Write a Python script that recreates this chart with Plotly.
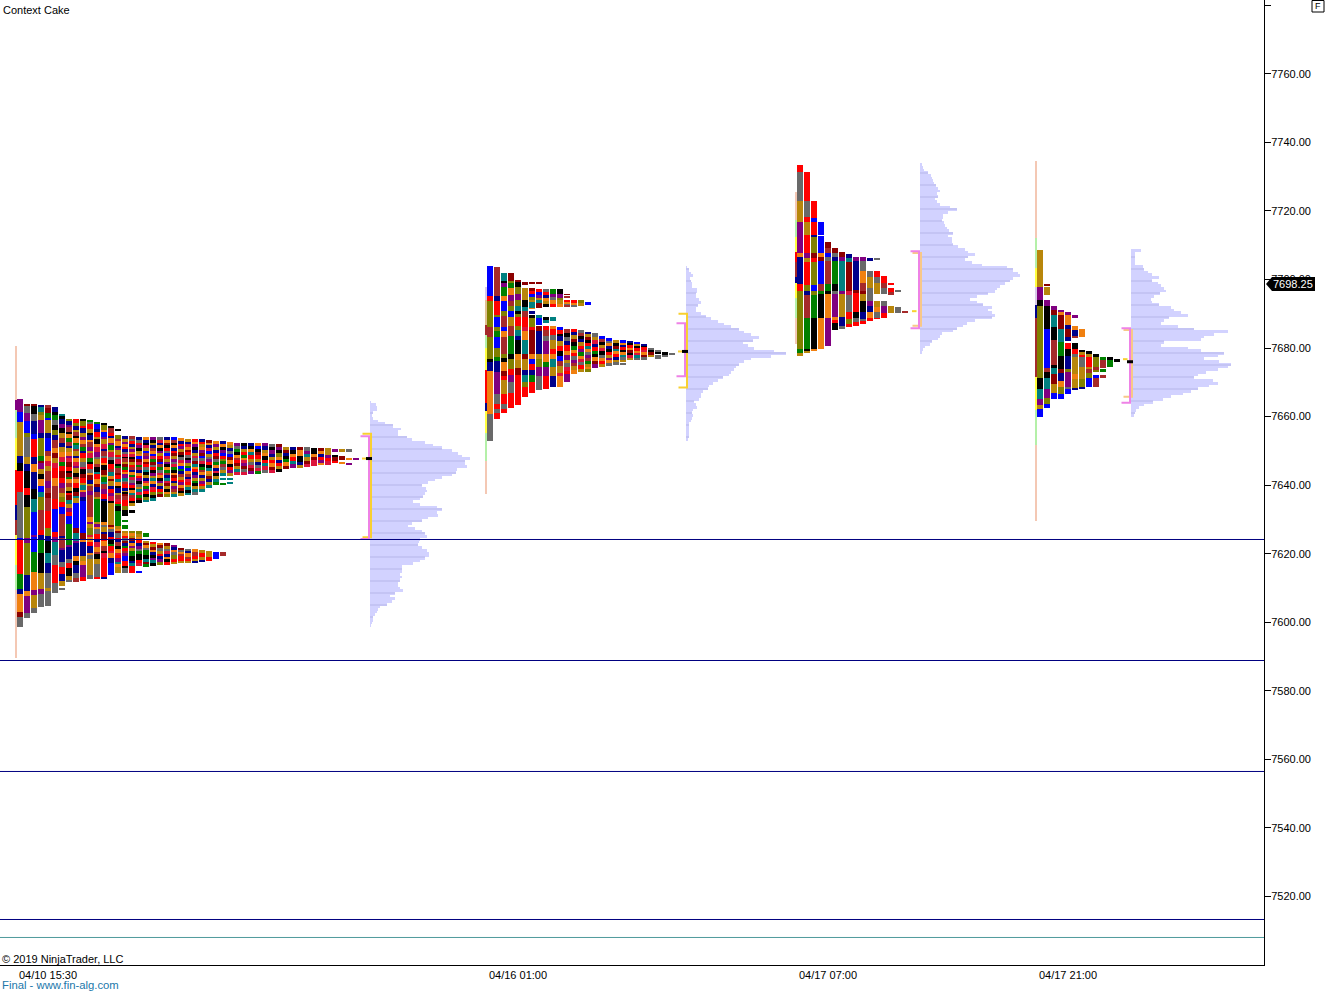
import re
import numpy as np
import plotly.graph_objects as go

PALETTE = dict(k="#000000", b="#0000ff", n="#00008b", r="#ff0000", m="#8b0000", w="#a52a2a", g="#008000",
               o="#f08010", y="#b8860b", l="#808000", p="#800080", t="#008080", a="#696969", c="#dc143c",
               s="#f4c8b4", e="#b4f0a8", i="#ffff40", d="#d8c8e8", f="#e0c090")

SESSION_START = [0, 47, 78, 102]
PROFILE_BASE = [35.3, 66.9, 90.3, 111.4]
TIME_LABELS = ["04/10 15:30", "04/16 01:00", "04/17 07:00", "04/17 21:00"]
PRICE_TICKS = [7520, 7540, 7560, 7580, 7600, 7620, 7640, 7660, 7680, 7700, 7720, 7740, 7760, 7780]
LEVEL_LINES = [7624.13, 7588.82, 7556.44, 7513.25]
TEAL_LINE = 7508.0
LAST_PRICE = 7698.25

RANGE_TOP = [7680.5, 7697.75, 7725.5, 7734.5]
RANGE_BOT = [7589.5, 7637.5, 7681.25, 7629.5]
RANGE_CELLS = ["54s10p28e32i35r15n15w30i25e68s", "13d25f10w13e22i33r8n21i28e33s",
               "28s17e15i10r15w6n14i20e26s", "77s30e19i18d13n59w33i35e76s"]

# column, top price, bottom price, cells (top to bottom; count+colour letter)
S1 = [
 (0,7665,7598.5,"5p4b13y3n3k8r18a1b13r6g2n7o2m4a"),
 (1,7663.75,7601.25,"1m3a3p5b2l8a3y3n7k3r5k13l2p13l7n2o7p2a"),
 (2,7663.75,7602.75,"1m3k3a5n2b7r3n3o7n4k5t9b1p6b8g7o2p5y2a"),
 (3,7663.5,7604.5,"1n2t1l2y5p2n7l2g1m2p2y2k3o2b2t5l8w2r2n5g8k6y2p5a"),
 (4,7663.25,7604.75,"1w2m2g1b5y2n5b2w2o2c2y4w3p2w2m5w7r3l2n5k4t4n6a1y6a"),
 (5,7662.75,7608.5,"2n1k2g2a2k2l2n3w2o2m2y2c4r3o5w4r9b2r2p5t4a7r4a"),
 (6,7660.75,7609.25,"1t1k2n2p2k2y2w2n2y2o2c2g2r3m2r2p2w2y2l2r3b9w1n4w1p5n2a3r3n2y1_1a"),
 (7,7659.25,7611.75,"1l2n1p2w1k2o2g2w1n2y2o1p2c2m2r1k2m1g2o2w2y1k1r2m2t2y2p2r4b10g1p6n2a2r4k2y1a"),
 (8,7659.25,7611.75,"2r1l2n1y2w1k2o1g2t1w2y1n2o2c1p2y2k1w2o2r2k2m1t2y12b2m4t1p6n2o2k4n2a2w"),
 (9,7659.25,7612,"1k2l1r2n2y1p2o1w2g1n2r2y2a1c2k2m2r1y2t1o2p2n14b3m1o6n2y2o5p2r"),
 (10,7659,7612.5,"1g1a2r2y1k2n1o2w2p1y2c2g1k2r2a1o2m2n1y2w2p10w2o1p2y3l1c2o2r3n1o2a2y5y2a"),
 (11,7658.5,7612.5,"1g2b1n2r1y2k1o2c2p1a2y1w2k1t2r2o1m2n2w1y9g1y1p1o2a2r1n2c2o1w2k2y5a1r"),
 (12,7658.25,7612.5,"1k2l1o2b1p2y2c1n2w1a2r1o2k2m1y2g1t2w2p2r1n9k1o1a2y1n2m1r2o2w1k2c8r1n"),
 (13,7657.25,7613.75,"1k2w1r1n2o1p2g1y2c1a2k2r1w2t1o1m2y1n2r1p2c1k9y1m1o1a2n1r2k1g2r1c2o2n5b"),
 (14,7656.5,7655.75,"k"),
 (14,7654.75,7614.25,"2l1w2o1n1p2y1r1a2c1k1g2w1m2r1t2o1k2n1y2w1c1r1g2k7g1y1o1m2a1r1n2w1k2o1c1r2p1t1o3y"),
 (15,7654.25,7631,"1n2y1p1o1r2n1a1c1k2w1y1m2g1r1o2p1t1a1w2r1n1y1k1m2w3r2l3k"),
 (15,7629.75,7629.25,"g"),(15,7628.25,7627.25,"g"),
 (15,7626.75,7614.25,"1y1o1r1a1m1n1g1r1w1p2b2r1k2a"),
 (16,7654.25,7634,"1w1a1r1n1y1p1o1c1k1m1y1r1w1n1o1g1c1a1p1r1k1o1t1w1r1k1y"),
 (16,7632.75,7632,"k"),
 (16,7626.75,7614.25,"1l1o1y1m1n1o1p1y2g2k1n1t3r"),
 (17,7654,7634.75,"1n1a1r1p1k1y1o1b1m1c1g1w1n1o1r1p1k1a1y1t1c1g1m1k"),
 (17,7626.5,7616.5,"1l1y1o1r1n1p1a1g2k1r1c"),(17,7615,7614.25,"b"),
 (18,7654,7635,"1o1n1k1c1y1b1w1p1o1m1r1a1t1k1y1n1c1o1g1p1r1k1l1t"),
 (18,7626,7624.75,"g"),
 (18,7623.75,7616.25,"1y1m1o1a2g2k1t1m1g"),
 (19,7654,7635.5,"1p1k1y1n1w1o1b1c1g1m1a1r1k1p1y1t1o1n1c1r1l1k1t"),
 (19,7623.5,7616.5,"1r1y1m1o1n1k1p1t1k"),
 (20,7654,7636.5,"1a1c1n1o1k1p1y1r1m1b1w1g1a1c1o1k1p1y1n1r1l1m"),
 (20,7623.25,7616.75,"1o1m1a1y1r1n1p1l"),
 (21,7654,7636.5,"1n1o1m1k1r1a1b1c1y1p1k1o1g1w1n1t1c1m1y1k1o1l"),
 (21,7623,7616.75,"1m1y1a1c1n1o1k1r"),
 (22,7654,7636.5,"1b1w1k1o1n1r1m1y1p1a1c1g1k1o1m1r1n1y1p1w1y1t"),
 (22,7622.5,7617,"1p1n1o1a2l1r1y"),
 (23,7653.75,7636.75,"1o1n1r1p1y1m1k1a1c1o1b1g1n1w1y1r1p1o1m1k1y"),
 (23,7621.75,7617.25,"1m1a1o1w2r1y"),
 (24,7653.5,7637,"1y1n1c1o1m1r1a1k1p1y1g1b1o1w1n1c1r1y1t1k1t"),
 (24,7621.5,7617.25,"1a1n2o1w1r1y"),
 (25,7653.5,7637.25,"1r1o1p1k1n1y1c1a1m1t1o1r1n1p1y1g1k1y1t1a"),
 (25,7621.25,7617.25,"1o2w1r1y1n"),
 (26,7653.5,7638,"1n1r1y1o1p1m1b1a1c1k1g1w1o1n1y1p1r1y1t"),
 (26,7621,7617.5,"1y2r1y1n"),
 (27,7653.25,7639.25,"1m1o1n1c1b1y1a1p1r1k1t1o1y1m1n1y1t"),
 (27,7620.75,7618,"3y2r"),
 (28,7652.75,7640,"1o1p1y1n1r1m1a1g1o1n1c1k1y1t1g"),
 (28,7620.5,7618.5,"3b"),
 (29,7652.75,7642.75,"1n1o1k1p1b1r1l1g1w1a1y1t"),(29,7641.9,7641.6,"t"),(29,7640.7,7640.3,"g"),
 (29,7620.5,7619.25,"w"),
 (30,7652.5,7642.75,"1o1y1n1a1b1m1o1k1r1p1y"),(30,7641.9,7641.6,"t"),(30,7640.9,7640.6,"t"),
 (31,7652.25,7643,"1p1a1g1k1o1w1r1m1y1t1c"),
 (32,7652.25,7643,"1k1n1y1r1g1o1c1p1m1a1c"),
 (33,7652.25,7643.25,"1n1k1o1t1r1y1a1c1m1p"),
 (34,7652.25,7643.25,"1o1b1k1m1r1y1n1a1c1g"),
 (35,7652.25,7643.5,"1p1n1y1o1k1r1t1c1a"),
 (36,7652,7643.5,"1a1k1p1n1y1r1o1m1c"),
 (37,7652,7643.75,"1m1p1k1l1o1n1r1y1k"),
 (38,7651.25,7644.75,"1y1m1n1k1g1o1m"),
 (39,7651.25,7645,"1n1k1o1r1t1p"),
 (40,7651.25,7645,"1m2o2k1n1y"),
 (41,7651,7645.25,"1a1p1t1y1m1c"),
 (42,7650.75,7645.5,"2k1o1m2c"),
 (43,7650.75,7645.75,"1m1o1n1r1p1o"),
 (44,7650.75,7646,"2y1p1r1c"),
 (45,7650.5,7649.75,"p"),(45,7648.75,7646.5,"1k2m1r"),
 (46,7650.5,7649.75,"y"),(46,7648.5,7647.25,"m"),(46,7646.75,7646.25,"o"),
 (47,7650.5,7649.75,"a"),(47,7648,7647.5,"o"),(47,7646.5,7646,"p"),
 (48,7648,7647.5,"p"),
]
S2 = [
 (0,7704,7653,"92b13r78l30w67l8k27n130o80a"),
 (1,7703.75,7659.25,"89w13n42r8l28b12l18g34b28l10g33n67p32a13r13a18r"),
 (2,7702,7661,"24t6k14p27g13o32b13l33w12b18o52w13l12k25o15m13r42y32r13a13r"),
 (3,7702,7662.5,"24m8l14g20o18p18w14l18b28y30w54g13k30l20r20p35a32r12r"),
 (4,7699.75,7663.25,"6m14k22l18p18l14t10k8l28r12l18t10n44k18o22y23m20r70r"),
 (5,7699.25,7698.5,"m"),
 (5,7697.5,7665.75,"36y20k12t20w28r12c30o40t15m35y15n20t15l30r"),
 (6,7699.25,7698.9,"m"),
 (6,7697.5,7691.5,"10m8r10b8l8y16t3o"),(6,7690.75,7690,"n"),
 (6,7689.75,7667,"10k26l12r30m40m15o15b20r15n20g33r"),
 (7,7699.25,7698.9,"m"),
 (7,7697.25,7691.75,"10r10b8p8y8t16m"),
 (7,7689.75,7667.75,"10t20b3_15m70n15y25l25p43a"),
 (8,7697.25,7692,"10a8r10n10o8y9k"),(8,7689,7687.5,"10k6t"),
 (8,7686.5,7668,"12r18w15a40p25o15g25p40r"),
 (9,7697.25,7692,"15g10p10a10o10r"),(9,7689,7688,"t"),
 (9,7686.5,7668.5,"10o18r15a25y15r15o25t25y35n"),
 (10,7697.25,7692,"15k13p7l10y10o"),
 (10,7686.25,7668.5,"10b12r8k15n15y15r15k15b15w20y10c35o"),
 (11,7695.75,7695.5,"m"),(11,7695,7694.75,"w"),(11,7694,7692,"6r5o6a5w"),
 (11,7685.5,7670,"9w8k10a9n12r10o10p8y8a8c8r18p"),
 (12,7694,7692,"8r6o8a"),
 (12,7685.5,7672.5,"7r7n9y7m9k9g7o8r8a7p9w8y9o"),
 (13,7694,7692.5,"10l6y"),
 (13,7685.25,7673,"7a6w8k7n8y8r7p8g7o8c7a8r7y"),
 (14,7693.5,7692.5,"b"),
 (14,7684.75,7673,"5n7y7m6k8r7t6o7a7p7w7g7y6o6l"),
 (15,7684.25,7674.25,"7a7y7c7n7r7g7k7o7m7p"),
 (16,7683.5,7674.5,"7b7w7k7y7c7k7a7o7r7y"),
 (17,7683,7674.75,"7b7a7o7n7k7r7y7p7o7a"),
 (18,7682.25,7675,"7y7k7m7t7o7r7n7y7a"),
 (19,7682.25,7675.25,"6b6o7n7r7k6o7t7a7y2_3a"),
 (20,7682,7676.5,"6n6k7r7o7m7k7c6y"),
 (21,7681.75,7676.5,"6b6y7k7r7o7c7t7a"),
 (22,7681.25,7676.5,"5n5k7r7c7o7m7a"),
 (23,7680,7677.25,"7a7k7m9y"),
 (24,7679.5,7677,"7a7k4_2a3_3a"),
 (25,7678.75,7677.5,"5k3_4a"),
 (26,7678.65,7678,"a"),
]
S3 = [
 (0,7733.5,7677.75,"21r87a65y93p12o80n22r173l13g7y"),
 (1,7731.5,7678.5,"87r48a17r37y56r14p11y69r20l10n70w93g7k6y"),
 (2,7723,7679.25,"52r13b37r6n50l14m11r69l20b10l70g93k5o"),
 (3,7716.75,7679.75,"39b3_50b14o11m69b20w10g70k94o"),
 (4,7711,7680.5,"18m15w14b11a69w20g10k70o86p"),
 (5,7709.25,7685.25,"15m14a11n69g20k10a70p8o10r20k"),
 (6,7708,7685.5,"14m13p69t20t10p70y26n9a"),
 (7,7707.5,7686,"13n11t69m20m10c53a20r15l10r"),
 (8,7706.5,7686.5,"12p87n10m55r20k12a10r"),
 (9,7706.5,7687,"12p29a36o24w8m20y35k20n5a10r"),
 (10,7706.25,7705.25,"n"),
 (10,7702.5,7687.75,"17a35y15a22a16p17n17o11r"),
 (11,7706,7705.75,"a"),
 (11,7702.5,7695.75,"17r18a32y"),
 (11,7693.75,7688.5,"18y17o17a4r"),
 (12,7701,7695.75,"20r17w17a"),
 (12,7693.75,7688.75,"16a20p14r"),
 (13,7699,7698.5,"r"),(13,7697.5,7695.75,"12r6w"),(13,7692.25,7690.25,"y"),
 (14,7696.75,7696.5,"a"),(14,7692,7690.25,"a"),
 (15,7690.75,7690.25,"w"),
]
S4 = [
 (0,7708.5,7660,"110y40p18k214l34k28t18p12y24b"),
 (1,7698.5,7698.25,"m"),(1,7697.75,7695.5,"y"),
 (1,7694,7662.5,"18p68k119b11w18k32t28p18l12b"),
 (2,7692.25,7665.25,"12p15m41t39k80w11k18t32m28y18b"),
 (3,7691,7665.25,"6p9o41m39t43g37k11m24n20o20l14b"),
 (4,7690.5,7666.5,"9p29o12n24m13n5_19r21k37n11l24p20p6a16b"),
 (5,7689.5,7689,"p"),
 (5,7686.5,7683,"12o23n3w"),(5,7681.5,7668,"19k15r8a50y15o27y4n"),
 (6,7685.5,7683.25,"o"),(6,7679.5,7668.25,"6k9y8r30a35y25l3n"),
 (7,7679,7668.75,"9k8y30r6y14w14l26b"),
 (8,7678.25,7673,"8k30l10w6l"),(8,7672.25,7668.75,"12b26w"),
 (9,7677.25,7674.25,"9g22w"),(9,7674,7673,"g"),(9,7672.25,7671.25,"w"),
 (10,7677.25,7674.5,"9k20g"),
 (11,7676.75,7676,"k"),
]
SESSIONS = [S1, S2, S3, S4]

VOL_TOP = [7664.25, 7703.5, 7733.5, 7708.5]
VOL_BOT = [7599, 7653.25, 7678.75, 7660.25]
VOL1 = [2,18,22,20,10,5,8,25,45,70,93,85,85,110,125,165,190,215,245,265,275,300,285,285,290,260,258,245,215,195,175,155,168,170,165,160,150,130,150,200,215,200,205,175,155,125,115,135,155,165,170,150,148,145,155,170,178,178,165,150,130,95,95,95,90,95,90,85,85,90,100,75,60,75,65,50,30,25,20,15,10,8,5,2]
VOL2 = [2,8,15,20,12,15,18,18,32,32,30,30,38,45,35,30,30,45,60,75,95,115,135,160,175,195,220,200,170,185,205,265,300,255,195,175,160,150,145,135,130,110,95,80,70,65,50,45,45,40,25,30,32,22,18,20,18,15,10,8,8,8,8,8,5]
VOL3 = [5,8,12,25,32,35,38,42,48,55,60,50,55,45,50,60,90,110,85,70,70,65,72,75,80,88,100,85,95,95,100,115,135,145,165,145,135,155,185,260,280,295,300,280,270,255,240,230,225,205,170,150,170,190,215,205,215,225,215,165,140,130,110,100,65,60,55,35,30,15,10,5]
VOL4 = [30,12,12,12,12,12,35,38,52,62,85,62,80,90,100,105,88,70,60,62,85,120,130,150,170,115,100,90,140,190,290,250,220,210,100,90,170,210,280,260,220,265,300,290,260,225,200,190,245,260,235,200,180,155,120,95,65,40,25,15,12,10]
VOLS = [VOL1, VOL2, VOL3, VOL4]

YEL_HI = [7655, 7690, 7707.75, 7685.25]
YEL_LO = [7624.75, 7668.5, 7686.5, 7665.75]
PINK_HI = [7654.25, 7687.25, 7708.25, 7685.75]
PINK_LO = [7624.25, 7671.75, 7685.75, 7664]
POC = [7647.75, 7679, None, 7676]
MID_TICK = [7647.75, 7679, 7690.75, 7676.75]
YEL_COLOR = ["#f8d030", "#f8d030", "#f8c888", "#f8c888"]
YEL_TICK = "#f8d030"
PINK = "#ee82e6"

def cells(text):
    return [(int(n) if n else 1, ch) for n, ch in re.findall(r"(\d*)([a-z_])", text)]

def add_cells(store, xc, top, bot, text):
    parts = cells(text)
    total = sum(n for n, _ in parts)
    unit = (top - bot) / total
    pos = top
    for n, ch in parts:
        h = n * unit
        if ch != "_":
            store.setdefault(ch, ([], [], []))
            store[ch][0].append(xc)
            store[ch][1].append(pos - h)
            store[ch][2].append(h)
        pos -= h

fig = go.Figure()

# thin session range bars
range_store = {}
for s, t, b, txt in zip(SESSION_START, RANGE_TOP, RANGE_BOT, RANGE_CELLS):
    add_cells(range_store, s - 0.1, t, b, txt)
for ch, (xs, bs, hs) in range_store.items():
    fig.add_bar(x=xs, y=hs, base=bs, width=0.2, marker=dict(color=PALETTE[ch], line_width=0), hoverinfo="skip")

# volume profiles
for base, top, bot, vol in zip(PROFILE_BASE, VOL_TOP, VOL_BOT, VOLS):
    step = (top - bot) / (len(vol) - 1)
    ys = [top - i * step for i in range(len(vol))]
    xs = [v / 30 for v in vol]
    fig.add_bar(orientation="h", y=ys, x=xs, base=[base] * len(vol), width=step,
                marker=dict(color="#d2d2ff", line_width=0), hoverinfo="skip")
    gy = [p for p in np.arange(7500, 7780, 3.5) if bot <= p <= top]
    gx = [xs[int(round((top - p) / step))] for p in gy]
    fig.add_bar(orientation="h", y=gy, x=gx, base=[base] * len(gy), width=0.3,
                marker=dict(color="#c4c4f4", line_width=0), hoverinfo="skip")

# market profile columns
col_store = {}
for start, sess in zip(SESSION_START, SESSIONS):
    for c, top, bot, txt in sess:
        add_cells(col_store, start + 0.7 * c + 0.3, top, bot, txt)
for ch, (xs, bs, hs) in col_store.items():
    fig.add_bar(x=xs, y=hs, base=bs, width=0.6, marker=dict(color=PALETTE[ch], line_width=0), hoverinfo="skip")

# value-area brackets, POC marks
for i, base in enumerate(PROFILE_BASE):
    xv = base + 0.1
    fig.add_scatter(x=[xv - 0.85, xv, xv, xv - 0.85], y=[YEL_HI[i], YEL_HI[i], YEL_LO[i], YEL_LO[i]], mode="lines",
                    line=dict(color=YEL_COLOR[i], width=2), hoverinfo="skip")
    xp = base - 0.1
    fig.add_scatter(x=[xp - 0.85, xp, xp, xp - 0.85], y=[PINK_HI[i], PINK_HI[i], PINK_LO[i], PINK_LO[i]], mode="lines",
                    line=dict(color=PINK, width=2), hoverinfo="skip")
    fig.add_scatter(x=[base - 0.8, base - 0.35], y=[MID_TICK[i], MID_TICK[i]], mode="lines",
                    line=dict(color=YEL_TICK, width=2), hoverinfo="skip")
    if POC[i] is not None:
        fig.add_scatter(x=[base - 0.4, base + 0.2], y=[POC[i], POC[i]], mode="lines",
                        line=dict(color="#000000", width=3), hoverinfo="skip")

W, H = 1264.0, 965.0
def px(x): return x / W
def py(y): return 1 - y / H

shapes = []
for lv in LEVEL_LINES:
    shapes.append(dict(type="line", xref="paper", x0=0, x1=1, yref="y", y0=lv, y1=lv, line=dict(color="#000080", width=1)))
shapes.append(dict(type="line", xref="paper", x0=0, x1=1, yref="y", y0=TEAL_LINE, y1=TEAL_LINE, line=dict(color="#4f9a9c", width=1)))
tag = [(1266, 284), (1272, 277), (1315, 277), (1315, 291), (1272, 291)]
shapes.append(dict(type="path", xref="paper", yref="paper", fillcolor="#000000", line_width=0,
                   path="M " + " L ".join(f"{px(a):.5f},{py(b):.5f}" for a, b in tag) + " Z"))
shapes.append(dict(type="rect", xref="paper", yref="paper", x0=px(1312), x1=px(1324), y0=py(0.5), y1=py(12),
                   line=dict(color="#000000", width=1), fillcolor="#ffffff"))

FONT = "Liberation Sans"
def note(text, x, y, color="#000000", size=11, xanchor="left"):
    return dict(text=text, x=px(x), y=py(y), xref="paper", yref="paper", showarrow=False, xanchor=xanchor,
                yanchor="middle", align="left", font=dict(family=FONT, size=size, color=color), borderpad=0)

annotations = [
    note("Context Cake", 2, 10),
    note("\u00a9 2019 NinjaTrader, LLC", 1, 959),
    note("Final - www.fin-alg.com", 1, 985, "#2277aa", 11.3),
    note(f"{LAST_PRICE:.2f}", 1272, 284, "#ffffff"),
    note("F", 1318, 6.5, size=9, xanchor="center"),
]

fig.update_layout(
    width=1325, height=992, autosize=False, showlegend=False, barmode="overlay", bargap=0,
    plot_bgcolor="#ffffff", paper_bgcolor="#ffffff",
    margin=dict(l=0, r=61, t=0, b=27, pad=0),
    font=dict(family=FONT, size=11, color="#000000"),
    shapes=shapes, annotations=annotations,
    xaxis=dict(range=[-1.7, 124.7], showgrid=False, zeroline=False, showline=True, linecolor="#000000", linewidth=1,
               tickmode="array", tickvals=[s + 3.1 for s in SESSION_START], ticktext=TIME_LABELS, ticks="", ticklen=0,
               tickfont=dict(family=FONT, size=11, color="#000000")),
    yaxis=dict(range=[7499.97, 7781.55], side="right", showgrid=False, zeroline=False, showline=True,
               linecolor="#000000", linewidth=1, ticks="outside", ticklen=6, tickcolor="#000000", tickwidth=1,
               tickmode="array", tickvals=PRICE_TICKS, ticklabelstandoff=-2,
               ticktext=[f"{v:.2f}" if v < 7780 else " " for v in PRICE_TICKS],
               tickfont=dict(family=FONT, size=11, color="#000000")),
)

fig.write_html("out.html", config=dict(displayModeBar=False),
               post_script="document.body.style.margin='0';document.body.style.overflow='hidden';")
